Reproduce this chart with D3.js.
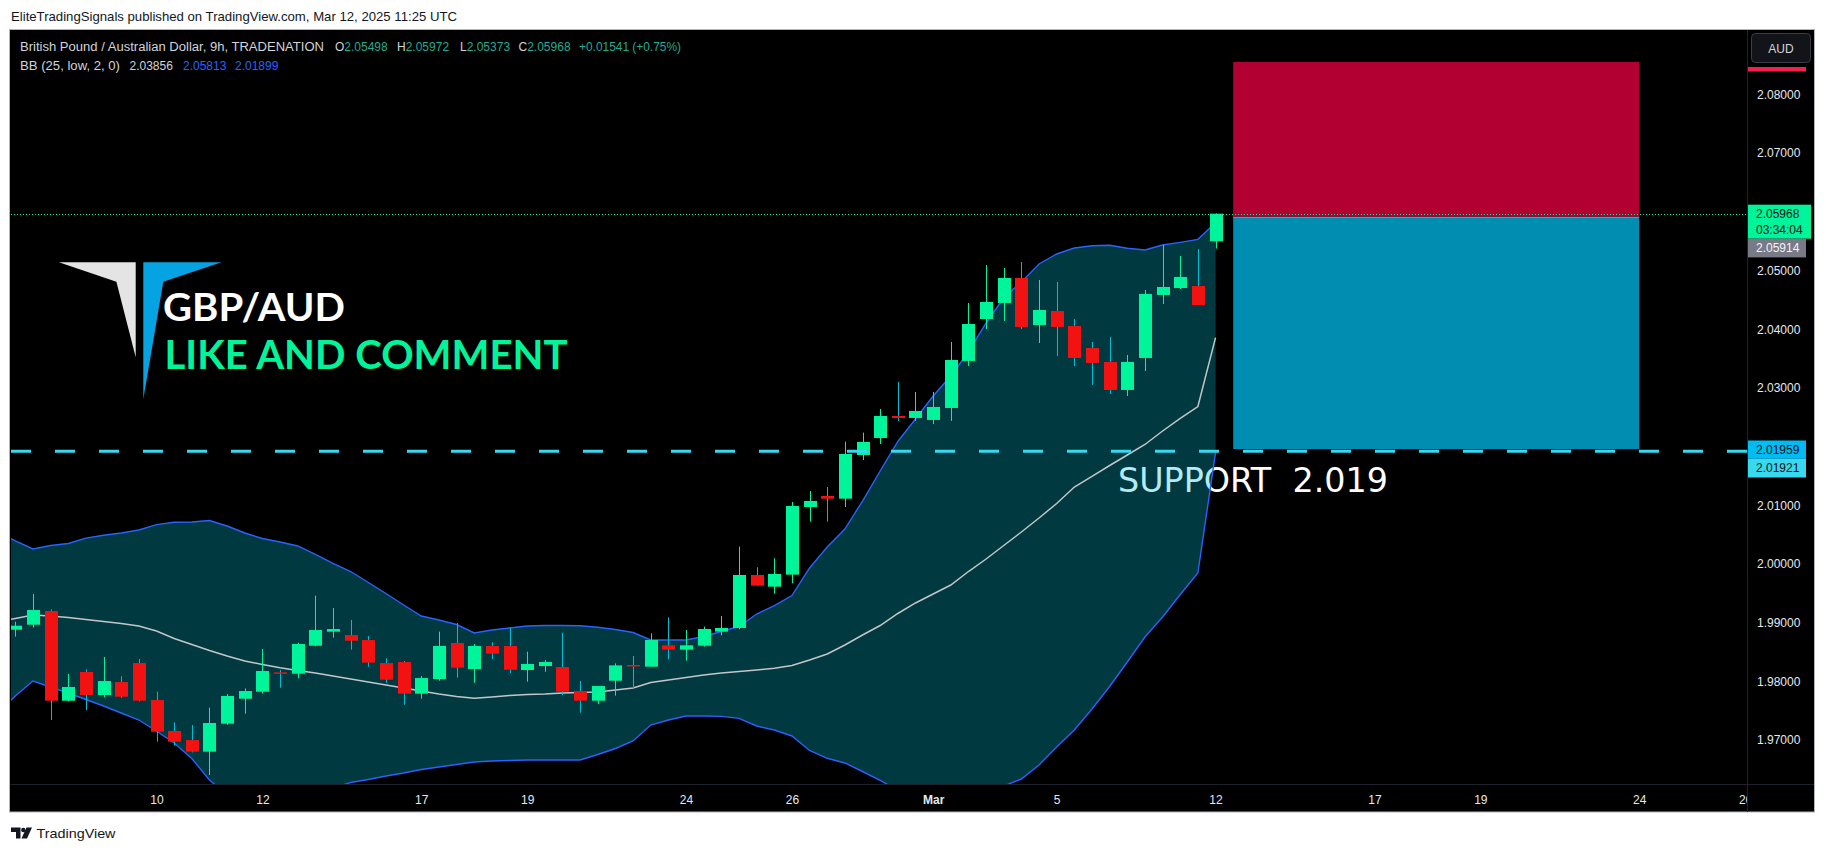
<!DOCTYPE html>
<html><head><meta charset="utf-8">
<script src="https://cdn.jsdelivr.net/npm/d3@7"></script>
<style>html,body{margin:0;padding:0;background:#fff;overflow:hidden}svg{display:block;font-family:"Liberation Sans",Arial,sans-serif}</style>
</head><body><svg id="c" width="1826" height="852"></svg>
<script>
// ---------------- DATA ----------------
const opens  = [1.98881,1.98966,1.99199,1.97671,1.98160,1.97768,1.97989,1.98313,1.97683,1.97155,1.97001,1.96803,1.97280,1.97705,1.97824,1.98154,1.98131,1.98608,1.98847,1.98790,1.98705,1.98313,1.98330,1.97791,1.98040,1.98654,1.98211,1.98603,1.98603,1.98194,1.98262,1.98245,1.97836,1.97671,1.98012,1.98280,1.98251,1.98615,1.98541,1.98609,1.98848,1.98910,1.99813,1.99614,1.99819,2.00971,2.01159,2.01113,2.01857,2.02147,2.02522,2.02488,2.02454,2.02658,2.03459,2.04174,2.04447,2.04873,2.04072,2.04310,2.04055,2.03680,2.03442,2.02965,2.03510,2.04583,2.04702,2.04736,2.05498];
const highs  = [1.99017,1.99488,1.99227,1.98126,1.98205,1.98415,1.98086,1.98381,1.97825,1.97302,1.97257,1.97552,1.97785,1.97881,1.98552,1.98194,1.98659,1.99460,1.99250,1.99046,1.98773,1.98393,1.98347,1.98091,1.98847,1.98994,1.98637,1.98665,1.98915,1.98506,1.98364,1.98830,1.98006,1.97921,1.98307,1.98433,1.98819,1.99092,1.98876,1.98933,1.99115,2.00296,1.99944,2.00097,2.01057,2.01244,2.01312,2.02084,2.02238,2.02641,2.03101,2.02931,2.02931,2.03782,2.04447,2.05094,2.05043,2.05145,2.04839,2.04804,2.04174,2.03782,2.03868,2.03561,2.04668,2.05435,2.05247,2.05366,2.05972];
const lows   = [1.98762,1.98915,1.97342,1.97660,1.97512,1.97728,1.97720,1.97660,1.96973,1.96905,1.96790,1.96405,1.97260,1.97450,1.97796,1.97893,1.98052,1.98600,1.98745,1.98540,1.98251,1.97978,1.97603,1.97705,1.98012,1.98063,1.97978,1.98381,1.98143,1.97995,1.98165,1.97768,1.97467,1.97615,1.97757,1.97882,1.98251,1.98376,1.98354,1.98592,1.98785,1.98888,1.99631,1.99495,1.99671,2.00722,2.00722,2.00971,2.01772,2.02045,2.02437,2.02437,2.02385,2.02437,2.03373,2.04004,2.04140,2.04004,2.03765,2.03544,2.03373,2.03050,2.02896,2.02862,2.03288,2.04430,2.04685,2.04412,2.05373];
const closes = [1.98949,1.99216,1.97671,1.97904,1.97768,1.98006,1.97739,1.97671,1.97143,1.96973,1.96803,1.97291,1.97751,1.97836,1.98177,1.98131,1.98637,1.98875,1.98892,1.98693,1.98319,1.98029,1.97791,1.98057,1.98603,1.98234,1.98603,1.98472,1.98199,1.98296,1.98330,1.97824,1.97671,1.97921,1.98273,1.98268,1.98706,1.98541,1.98615,1.98893,1.98910,1.99813,1.99631,1.99830,2.00988,2.01074,2.01113,2.01874,2.02079,2.02522,2.02488,2.02607,2.02675,2.03476,2.04089,2.04464,2.04873,2.04038,2.04327,2.04038,2.03510,2.03425,2.02965,2.03442,2.04600,2.04719,2.04890,2.04412,2.05968];

// Bollinger Bands (25, low, 2, 0), read per bar, starting one bar left of the first visible candle
const bbStartIndex = -1;
const bbUpper = [2.00550,2.00392,2.00256,2.00315,2.00349,2.00440,2.00489,2.00528,2.00579,2.00670,2.00710,2.00716,2.00741,2.00647,2.00528,2.00434,2.00375,2.00307,2.00162,2.00009,1.99872,1.99685,1.99497,1.99302,1.99114,1.99046,1.98969,1.98825,1.98876,1.98910,1.98944,1.98952,1.98952,1.98949,1.98922,1.98884,1.98833,1.98705,1.98705,1.98705,1.98765,1.98850,1.98935,1.99148,1.99290,1.99463,1.99932,2.00290,2.00596,2.01073,2.01584,2.02087,2.02470,2.02862,2.03203,2.03612,2.04106,2.04532,2.04804,2.05111,2.05281,2.05383,2.05422,2.05429,2.05378,2.05349,2.05434,2.05480,2.05531,2.05813];
const bbBasis = [1.99012,1.99072,1.99131,1.99114,1.99089,1.99055,1.99020,1.98986,1.98944,1.98859,1.98731,1.98629,1.98526,1.98433,1.98348,1.98288,1.98232,1.98186,1.98143,1.98092,1.98041,1.97990,1.97939,1.97888,1.97836,1.97785,1.97743,1.97712,1.97734,1.97760,1.97777,1.97785,1.97802,1.97811,1.97819,1.97853,1.97888,1.97981,1.98024,1.98066,1.98109,1.98143,1.98169,1.98194,1.98223,1.98271,1.98365,1.98467,1.98620,1.98790,1.98952,1.99157,1.99336,1.99489,1.99642,1.99872,2.00085,2.00315,2.00545,2.00784,2.01031,2.01312,2.01491,2.01678,2.01857,2.02036,2.02266,2.02479,2.02683,2.03856];
const bbLower = [1.97448,1.97751,1.98007,1.97905,1.97802,1.97692,1.97581,1.97462,1.97342,1.97155,1.96951,1.96687,1.96320,1.96065,1.95894,1.95809,1.95843,1.95980,1.96099,1.96184,1.96278,1.96329,1.96388,1.96440,1.96499,1.96542,1.96584,1.96627,1.96644,1.96652,1.96661,1.96661,1.96661,1.96661,1.96755,1.96857,1.96985,1.97257,1.97342,1.97411,1.97411,1.97405,1.97371,1.97240,1.97172,1.97070,1.96823,1.96690,1.96610,1.96465,1.96312,1.96150,1.96031,1.95980,1.95980,1.96031,1.96116,1.96218,1.96337,1.96576,1.96882,1.97172,1.97530,1.97913,1.98330,1.98756,1.99097,1.99480,1.99847,2.01899];

const timeTickIndex  = [8,14,23,29,38,44,52,59,68,77,83,92,98];
const timeTickLabels = ["10","12","17","19","24","26","Mar","5","12","17","19","24","26"];
const priceTicks = [1.97,1.98,1.99,2.00,2.01,2.03,2.04,2.05,2.07,2.08];

const lastPrice = 2.05968, countdown = "03:34:04";
const entryPrice = 2.05914, stopPrice = 2.08552, targetPrice = 2.01959;
const supportPrice = 2.01921;
const positionStart = 69, positionEnd = 92;

const legendMain = "British Pound / Australian Dollar, 9h, TRADENATION";
const legendOHLC = [["O","2.05498"],["H","2.05972"],["L","2.05373"],["C","2.05968"]];
const legendChange = "+0.01541 (+0.75%)";
const legendBB = "BB (25, low, 2, 0)";
const legendBBVals = ["2.03856","2.05813","2.01899"];

// ---------------- LAYOUT ----------------
const W = 1826, H = 852;
const pane = {l: 11, r: 1747, t: 30, b: 784};
const C = {bull:"#00f59b", bear:"#f21212", bearWick:"#00bcd4", band:"#2962ff", basis:"#c2c6ca",
           fill:"rgba(0,188,212,0.3)", support:"#38d8ef", target:"#008db2", stop:"#b20032",
           text:"#d1d4dc", teal:"#22ab94"};

const x = d3.scaleLinear().domain([-0.244, 98.11]).range([pane.l, pane.r]);
const y = d3.scaleLinear().domain([2.00, 2.08]).range([564, 94.4]);

const svg = d3.select("#c");
svg.append("rect").attr("width", W).attr("height", H).attr("fill", "#fff");
svg.append("text").attr("x", 11).attr("y", 21).attr("font-size", 13).attr("fill", "#131722")
  .attr("textLength", 446).attr("lengthAdjust", "spacingAndGlyphs")
  .text("EliteTradingSignals published on TradingView.com, Mar 12, 2025 11:25 UTC");

svg.append("rect").attr("x", 9.5).attr("y", 29.5).attr("width", 1805).attr("height", 782.5)
  .attr("fill", "#000").attr("stroke", "#b2b5be");

const defs = svg.append("defs");
defs.append("clipPath").attr("id", "pc").append("rect")
  .attr("x", pane.l).attr("y", pane.t).attr("width", pane.r - pane.l).attr("height", pane.b - pane.t);
defs.append("clipPath").attr("id", "tc").append("rect")
  .attr("x", pane.l).attr("y", pane.b).attr("width", pane.r - pane.l).attr("height", 28);

const g = svg.append("g").attr("clip-path", "url(#pc)");

// position tool boxes
const bx0 = x(positionStart), bx1 = x(positionEnd);
g.append("rect").attr("x", bx0).attr("width", bx1 - bx0).attr("y", y(stopPrice))
  .attr("height", y(entryPrice) - y(stopPrice)).attr("fill", C.stop);
g.append("rect").attr("x", bx0).attr("width", bx1 - bx0).attr("y", y(entryPrice))
  .attr("height", y(targetPrice) - y(entryPrice)).attr("fill", C.target);
g.append("line").attr("x1", bx0).attr("x2", bx1).attr("y1", Math.round(y(entryPrice)) + 0.5)
  .attr("y2", Math.round(y(entryPrice)) + 0.5).attr("stroke", "#7c8a99").attr("stroke-width", 1);

// logo + texts
g.append("polygon").attr("points", "58.9,262.3 135.7,262.3 135.7,357.3 116.4,281.7").attr("fill", "#e4e4e4");
g.append("polygon").attr("points", "143.3,262.3 221.5,262.3 163.3,281.7 143.3,399.3").attr("fill", "#05a3e2");
g.append("text").attr("x", 163).attr("y", 320.7).attr("font-family", "Lato,'Open Sans',sans-serif")
  .attr("font-weight", 700).attr("font-size", 37.5).attr("fill", "#fff")
  .attr("textLength", 182).attr("lengthAdjust", "spacingAndGlyphs").text("GBP/AUD");
g.append("text").attr("x", 164.5).attr("y", 369.3).attr("font-family", "Lato,'Open Sans',sans-serif")
  .attr("font-weight", 700).attr("font-size", 40).attr("fill", C.bull)
  .attr("textLength", 403).attr("lengthAdjust", "spacingAndGlyphs").text("LIKE AND COMMENT");

// support text (under indicator)
g.append("text").attr("x", 1118).attr("y", 491.7).attr("font-family", "'DejaVu Sans',sans-serif")
  .attr("font-size", 33).attr("fill", "#fff").style("white-space", "pre")
  .attr("textLength", 270).attr("lengthAdjust", "spacingAndGlyphs").text("SUPPORT  2.019");

// Bollinger bands
const bbIdx = bbUpper.map((_, k) => k + bbStartIndex);
g.append("path").attr("fill", C.fill)
  .attr("d", d3.area().x((d, k) => x(bbIdx[k])).y0((d, k) => y(bbLower[k])).y1(d => y(d))(bbUpper));
const ln = d3.line().x((d, k) => x(bbIdx[k])).y(d => y(d));
g.append("path").attr("d", ln(bbBasis)).attr("fill", "none").attr("stroke", C.basis).attr("stroke-width", 1.5);
g.append("path").attr("d", ln(bbUpper)).attr("fill", "none").attr("stroke", C.band).attr("stroke-width", 1.4);
g.append("path").attr("d", ln(bbLower)).attr("fill", "none").attr("stroke", C.band).attr("stroke-width", 1.4);

// candles
const bars = opens.map((o, i) => ({i, o, h: highs[i], l: lows[i], c: closes[i]}));
const cg = g.append("g");
bars.forEach(d => {
  const up = d.c >= d.o;
  const cx = Math.round(x(d.i)) + 0.5;
  cg.append("line").attr("x1", cx).attr("x2", cx).attr("y1", y(d.h)).attr("y2", y(d.l))
    .attr("stroke", up ? C.bull : C.bearWick).attr("stroke-width", 1);
  const top = y(Math.max(d.o, d.c)), bot = y(Math.min(d.o, d.c));
  cg.append("rect").attr("x", cx - 6.5).attr("width", 13).attr("y", top)
    .attr("height", Math.max(1.5, bot - top)).attr("fill", up ? C.bull : C.bear);
});

// support dashed line & last price dotted line
g.append("line").attr("x1", pane.l).attr("x2", pane.r).attr("y1", y(supportPrice)).attr("y2", y(supportPrice))
  .attr("stroke", C.support).attr("stroke-width", 3).attr("stroke-dasharray", "20,24");
g.append("line").attr("x1", pane.l).attr("x2", pane.r).attr("y1", Math.round(y(lastPrice)) + 0.5)
  .attr("y2", Math.round(y(lastPrice)) + 0.5).attr("stroke", C.bull).attr("stroke-width", 1).attr("stroke-dasharray", "1,2");

// legend
const lg = svg.append("g").attr("font-size", 12);
lg.append("text").attr("x", 20).attr("y", 51).attr("fill", C.text).attr("textLength", 304).attr("lengthAdjust", "spacingAndGlyphs").text(legendMain);
const ohlcX = [335, 397, 460, 518.5];
legendOHLC.forEach((p, k) => {
  const t = lg.append("text").attr("x", ohlcX[k]).attr("y", 51).attr("fill", C.text);
  t.append("tspan").text(p[0]);
  t.append("tspan").attr("fill", C.teal).text(p[1]);
});
lg.append("text").attr("x", 579).attr("y", 51).attr("fill", C.teal).attr("textLength", 102).attr("lengthAdjust", "spacingAndGlyphs").text(legendChange);
lg.append("text").attr("x", 20).attr("y", 70).attr("fill", C.text).attr("textLength", 100).attr("lengthAdjust", "spacingAndGlyphs").text(legendBB);
const bbX = [129.5, 183, 235];
legendBBVals.forEach((v, k) => lg.append("text").attr("x", bbX[k]).attr("y", 70)
  .attr("fill", k === 0 ? C.text : C.band).text(v));

// separators
svg.append("line").attr("x1", pane.r + 0.5).attr("x2", pane.r + 0.5).attr("y1", pane.t).attr("y2", 812).attr("stroke", "#1e222d");
svg.append("line").attr("x1", pane.l).attr("x2", 1814).attr("y1", pane.b + 0.5).attr("y2", pane.b + 0.5).attr("stroke", "#1e222d");

// price axis
const pa = svg.append("g").attr("transform", `translate(${pane.r},0)`)
  .call(d3.axisRight(y).tickValues(priceTicks).tickFormat(d3.format(".5f")).tickSize(0).tickPadding(10));
pa.select(".domain").remove();
pa.selectAll("text").attr("font-size", 12).attr("fill", "#e6e8ee").attr("font-family", "'Liberation Sans',Arial,sans-serif");

// AUD button + hidden stop label
svg.append("rect").attr("x", 1748).attr("y", 67).attr("width", 58).attr("height", 4.5).attr("fill", "#f2204d");
svg.append("rect").attr("x", 1751.5).attr("y", 33.5).attr("width", 59).attr("height", 29).attr("rx", 4)
  .attr("fill", "#131419").attr("stroke", "#3a3d46");
svg.append("text").attr("x", 1781).attr("y", 52.5).attr("text-anchor", "middle").attr("font-size", 12)
  .attr("fill", "#d1d4dc").text("AUD");

// axis price labels
function plabel(v, yTop, h, w, fill, tcol, extra) {
  svg.append("rect").attr("x", 1748).attr("y", yTop).attr("width", w).attr("height", h).attr("fill", fill);
  svg.append("text").attr("x", 1756).attr("y", yTop + 13.5).attr("font-size", 12).attr("fill", tcol).text(d3.format(".5f")(v));
  if (extra) svg.append("text").attr("x", 1756).attr("y", yTop + 29).attr("font-size", 12).attr("fill", tcol).text(extra);
}
plabel(lastPrice, y(lastPrice) - 9, 34, 63, C.bull, "#0b0e14", countdown);
plabel(entryPrice, y(lastPrice) + 25, 18.7, 58, "#787b86", "#f0f3fa");
plabel(targetPrice, y(targetPrice) - 8.5, 18.3, 58, "#00bcf2", "#0b0e14");
plabel(supportPrice, y(targetPrice) + 9.8, 18.7, 58, C.support, "#0b0e14");

// time axis
const ta = svg.append("g").attr("clip-path", "url(#tc)").append("g").attr("transform", `translate(0,${pane.b})`)
  .call(d3.axisBottom(x).tickValues(timeTickIndex).tickFormat((d, k) => timeTickLabels[k]).tickSize(0).tickPadding(11));
ta.select(".domain").remove();
ta.selectAll("text").attr("font-size", 12).attr("fill", "#e6e8ee").attr("font-family", "'Liberation Sans',Arial,sans-serif")
  .attr("font-weight", (d, k) => timeTickLabels[k] === "Mar" ? 700 : 400);

// footer
const fg = svg.append("g").attr("fill", "#131722");
fg.append("path").attr("d", "M11,827.5 h9.5 v11 h-4.5 v-6.5 h-5 z");
fg.append("circle").attr("cx", 23.3).attr("cy", 830).attr("r", 2.2);
fg.append("path").attr("d", "M26.5,827.5 h5.5 l-5,11 h-5.5 z");
fg.append("text").attr("x", 36.5).attr("y", 838).attr("font-size", 13).attr("fill", "#131722")
  .attr("textLength", 79).attr("lengthAdjust", "spacingAndGlyphs").text("TradingView");
</script></body></html>
